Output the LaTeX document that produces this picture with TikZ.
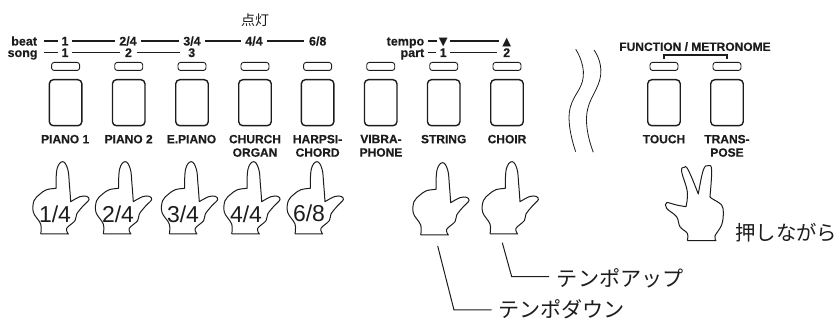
\documentclass[tikz,border=0pt]{standalone}
\usepackage{fontspec}
\setmainfont[BoldFeatures={FakeBold=0.25}]{Liberation Sans}
\newfontfamily\dejavu{DejaVu Sans}
\newfontfamily\cjkfont{Noto Sans CJK JP}
\definecolor{ink}{HTML}{1c1c1c}
\tikzset{
  btnbox/.style={draw=ink,line width=1.4pt,rounded corners=4pt,minimum width=32.5pt,minimum height=46pt,inner sep=0,anchor=north},
  ledbox/.style={draw=ink,line width=.9pt,rounded corners=2.5pt,minimum width=28pt,minimum height=8pt,inner sep=0,anchor=north},
  btnlabel/.style={font=\fontsize{12}{13.4}\selectfont\bfseries,text=ink,align=center,inner sep=0,anchor=north},
  toplabel/.style={font=\fontsize{12.5}{14}\selectfont\bfseries,text=ink,text height=9pt,text depth=0pt,inner ysep=0,inner xsep=3.5pt},
  rowline/.style={draw=ink,line width=1.2pt},
  handline/.style={draw=ink,line width=1pt,line join=round},
  beatlabel/.style={font=\fontsize{23}{23}\selectfont,text=ink,inner sep=0},
  jalabel/.style={font=\cjkfont\fontsize{21.1}{22}\selectfont,text=ink,inner sep=0},
  leader/.style={draw=ink,line width=1pt},
  wave/.style={draw=ink,line width=.8pt},
  onefinger/.pic={
    \draw[handline] (0,0) -- (83,0)
      -- plot[smooth,tension=.6] coordinates{(83,0)(78,-17)(103,-40)(108,-60)(128,-85)(145,-103)(138,-113)(118,-112)(90,-97)}
      -- plot[smooth,tension=.7] coordinates{(90,-97)(86,-150)(81,-195)(66,-217)(49,-195)(46,-137)}
      -- plot[smooth,tension=.6] coordinates{(46,-137)(18,-133)(-2,-120)(-20,-100)(-22,-65)(0,-30)(0,0)};
  },
  twofinger/.pic={
    \draw[handline] (0,0) -- (86,0)
      -- plot[smooth,tension=.6] coordinates{(86,0)(83,-14)(103,-47)(108,-82)(103,-107)(73,-127)(68,-132)}
      -- plot[smooth,tension=.7] coordinates{(68,-132)(73,-212)(63,-225)(48,-212)(33,-140)}
      -- plot[smooth,tension=.7] coordinates{(33,-140)(3,-212)(-10,-220)(-17,-207)(0,-147)(-4,-102)}
      -- plot[smooth,tension=.6] coordinates{(-4,-102)(-32,-107)(-62,-114)(-62,-97)(-32,-72)(-22,-42)(0,-22)(0,0)};
  }
}
\begin{document}
\begin{tikzpicture}[x=1pt,y=-1pt]
\useasboundingbox (0,0) rectangle (839,320);
% buttons and LEDs
\foreach \i/\x in {1/65.6,2/128.7,3/192,4/255,5/317.6,6/380.7,7/443.7,8/507,9/664,10/727}{
  \node[ledbox] (led\i) at (\x,62) {};
  \node[btnbox] (btn\i) at (\x,79) {};
}
% button labels
\node[btnlabel] (lab1) at (65.2,134.7) {PIANO 1};
\node[btnlabel] (lab2) at (128.7,134.7) {PIANO 2};
\node[btnlabel] (lab3) at (191.5,134.7) {E.PIANO};
\node[btnlabel] (lab4) at (255,134.7) {CHURCH\\ORGAN};
\node[btnlabel] (lab5) at (317.6,134.7) {HARPSI-\\CHORD};
\node[btnlabel] (lab6) at (381,134.7) {VIBRA-\\PHONE};
\node[btnlabel] (lab7) at (443.7,134.7) {STRING};
\node[btnlabel] (lab8) at (507,134.7) {CHOIR};
\node[btnlabel] (lab9) at (664,134.7) {TOUCH};
\node[btnlabel] (lab10) at (727,134.7) {TRANS-\\POSE};
\node[btnlabel] (fm) at (695,42) {FUNCTION / METRONOME};
\draw[rowline] ([yshift=3pt]led9.north) -- ++(0,-4) -| ([yshift=3pt]led10.north);
% top text
\node[font=\cjkfont\fontsize{14}{15}\selectfont,text=ink,inner sep=0] (lit) at (255,20) {点灯};
% beat row
\node[toplabel,anchor=east,inner xsep=6.5pt] (beat) at (43.7,41) {beat};
\node[toplabel] (b1) at (65,41) {1};
\node[toplabel,inner xsep=4.5pt] (b2) at (128,41) {2/4};
\node[toplabel,inner xsep=4.5pt] (b3) at (192,41) {3/4};
\node[toplabel,inner xsep=4.5pt] (b4) at (254,41) {4/4};
\node[toplabel,inner xsep=4.5pt] (b5) at (317.7,41) {6/8};
\draw[rowline] (beat) -- (b1) -- (b2) -- (b3) -- (b4) -- (b5);
% song row
\node[toplabel,anchor=east,inner xsep=6pt] (song) at (43.7,52.5) {song};
\node[toplabel] (s1) at (65,52.5) {1};
\node[toplabel,inner xsep=4.8pt] (s2) at (128.5,52.5) {2};
\node[toplabel,inner xsep=7.8pt] (s3) at (191.7,52.5) {3};
\draw[rowline] (song) -- (s1) -- (s2) -- (s3);
% tempo row
\node[toplabel,anchor=east,inner xsep=3.3pt] (tempo) at (427.7,41) {tempo};
\node[toplabel,font=\dejavu\fontsize{11.5}{12}\selectfont,inner xsep=2pt] (tdown) at (443.3,41) {▼};
\node[toplabel,font=\dejavu\fontsize{11.5}{12}\selectfont,inner xsep=3.5pt] (tup) at (506.7,41) {▲};
\draw[rowline] (tempo) -- (tdown) -- (tup);
% part row
\node[toplabel,anchor=east,inner xsep=3.3pt] (part) at (427.7,52.5) {part};
\node[toplabel] (p1) at (443.3,52.5) {1};
\node[toplabel,inner xsep=6pt] (p2) at (506.7,52.5) {2};
\draw[rowline] (part) -- (p1) -- (p2);
% wavy break
\draw[wave] plot[smooth,tension=.8] coordinates{(575.7,49.3)(583.3,76.7)(569.3,113)(575.7,151.7)};
\draw[wave] plot[smooth,tension=.8] coordinates{(594,50)(600.7,75)(586.7,115)(593.3,152.3)};
% hands
\foreach \x/\y in {40.7/234,103.3/234,169.3/234,231.7/234,295/234,420.7/235,490/234}{
  \pic[scale=.3333] at (\x,\y) {onefinger};
}
\pic[scale=.3333] at (687.3,240.7) {twofinger};
\node[beatlabel] (n1) at (55,214) {1/4};
\node[beatlabel] (n2) at (118,214) {2/4};
\node[beatlabel] (n3) at (183,214) {3/4};
\node[beatlabel] (n4) at (246,214) {4/4};
\node[beatlabel] (n5) at (309,213) {6/8};
% Japanese labels and leaders
\node[jalabel,anchor=west,font=\cjkfont\fontsize{20.4}{22}\selectfont] (hold) at (735,232.7) {押しながら};
\node[jalabel,anchor=west] (up) at (556.7,278) {テンポアップ};
\node[jalabel,anchor=west] (down) at (498,309.3) {テンポダウン};
\coordinate (upelbow) at (511.7,276.7);
\coordinate (uptop) at (502.3,242.7);
\coordinate (downelbow) at (454,310);
\coordinate (downtop) at (437.7,246);
\draw[leader] (up.west |- upelbow) ++(-7.7,0) -- (upelbow) -- (uptop);
\draw[leader] (down.west |- downelbow) ++(-6.3,0) -- (downelbow) -- (downtop);
\end{tikzpicture}
\end{document}
